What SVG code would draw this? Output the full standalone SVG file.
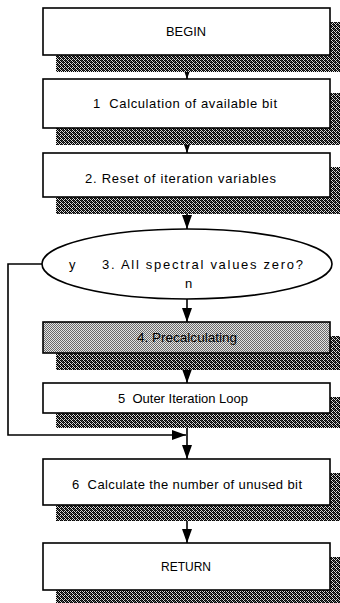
<svg xmlns="http://www.w3.org/2000/svg" width="340" height="603" viewBox="0 0 340 603">
<defs>
<pattern id="dk" x="0" y="0" width="4" height="4" patternUnits="userSpaceOnUse">
<rect width="4" height="4" fill="#d8d8d8"/>
<rect x="0" y="0" width="1" height="1" fill="#000"/>
<rect x="2" y="0" width="1" height="1" fill="#000"/>
<rect x="1" y="1" width="1" height="1" fill="#000"/>
<rect x="3" y="1" width="1" height="1" fill="#000"/>
<rect x="0" y="2" width="1" height="1" fill="#000"/>
<rect x="2" y="2" width="1" height="1" fill="#000"/>
<rect x="1" y="3" width="1" height="1" fill="#000"/>
<rect x="3" y="3" width="1" height="1" fill="#000"/>
<rect x="1" y="0" width="1" height="1" fill="#333"/>
<rect x="3" y="2" width="1" height="1" fill="#333"/>
<rect x="2" y="1" width="1" height="1" fill="#666"/>
</pattern>
<pattern id="lt" x="0" y="0" width="2" height="2" patternUnits="userSpaceOnUse">
<rect width="2" height="2" fill="#e4e4e4"/>
<rect x="0" y="0" width="1" height="1" fill="#6a6a6a"/>
<rect x="1" y="1" width="1" height="1" fill="#6a6a6a"/>
</pattern>
<marker id="ah" viewBox="0 0 14 10" refX="14" refY="5" markerWidth="14" markerHeight="10" markerUnits="userSpaceOnUse" orient="auto">
<path d="M0,0 L14,5 L0,10 Z" fill="#000"/>
</marker>
</defs>
<style>
.box{fill:#fff;stroke:#000;stroke-width:1.6}
.sh{fill:url(#dk)}
.t{font-family:"Liberation Sans",Arial,sans-serif;font-size:13px;fill:#000}
.c{fill:none;stroke:#000;stroke-width:1.6}
</style>

<g id="connectors">
<line class="c" x1="187" y1="55" x2="187" y2="79" marker-end="url(#ah)"/>
<line class="c" x1="187" y1="128" x2="187" y2="153" marker-end="url(#ah)"/>
<line class="c" x1="187" y1="197" x2="187" y2="229" marker-end="url(#ah)"/>
<line class="c" x1="187" y1="299" x2="187" y2="322" marker-end="url(#ah)"/>
<line class="c" x1="187" y1="353" x2="187" y2="383" marker-end="url(#ah)"/>
<line class="c" x1="187" y1="413" x2="187" y2="459" marker-end="url(#ah)"/>
<line class="c" x1="187" y1="505" x2="187" y2="543" marker-end="url(#ah)"/>
<polyline class="c" points="42,264 8,264 8,435 186,435" marker-end="url(#ah)"/>
</g>

<g id="begin">
<rect class="sh" x="56" y="22" width="284" height="50"/>
<rect class="box" x="43" y="8" width="287" height="47"/>
<text class="t" x="166" y="36" textLength="40" lengthAdjust="spacingAndGlyphs">BEGIN</text>
</g>

<g id="step1">
<rect class="sh" x="56" y="93" width="284" height="52"/>
<rect class="box" x="43" y="79" width="287" height="49"/>
<text class="t" x="93" y="108" textLength="184" lengthAdjust="spacing" xml:space="preserve">1  Calculation of available bit</text>
</g>

<g id="step2">
<rect class="sh" x="56" y="167" width="284" height="47"/>
<rect class="box" x="43" y="153" width="287" height="44"/>
<text class="t" x="85" y="183" textLength="191" lengthAdjust="spacing">2. Reset of iteration variables</text>
</g>

<g id="step3">
<ellipse fill="#fff" stroke="#000" stroke-width="1.6" cx="187" cy="264" rx="145" ry="35"/>
<text class="t" x="102" y="269" textLength="201" lengthAdjust="spacing">3. All spectral values zero?</text>
<text class="t" x="69" y="269">y</text>
<text class="t" x="185" y="288">n</text>
</g>

<g id="step4">
<rect class="sh" x="56" y="336" width="284" height="34"/>
<rect fill="url(#lt)" stroke="#000" stroke-width="1.6" x="43" y="322" width="287" height="31"/>
<text class="t" x="137" y="342" textLength="100" lengthAdjust="spacingAndGlyphs" fill="#111">4. Precalculating</text>
</g>

<g id="step5">
<rect class="sh" x="56" y="397" width="284" height="31"/>
<rect class="box" x="43" y="383" width="287" height="30"/>
<text class="t" x="118" y="403" textLength="130" lengthAdjust="spacing" xml:space="preserve">5  Outer Iteration Loop</text>
</g>

<g id="step6">
<rect class="sh" x="56" y="473" width="284" height="48"/>
<rect class="box" x="43" y="459" width="287" height="46"/>
<text class="t" x="72" y="489" textLength="230" lengthAdjust="spacing" xml:space="preserve">6  Calculate the number of unused bit</text>
</g>

<g id="return">
<rect class="sh" x="56" y="557" width="284" height="46"/>
<rect class="box" x="43" y="543" width="287" height="47"/>
<text class="t" x="161" y="571" textLength="50" lengthAdjust="spacingAndGlyphs">RETURN</text>
</g>
</svg>
